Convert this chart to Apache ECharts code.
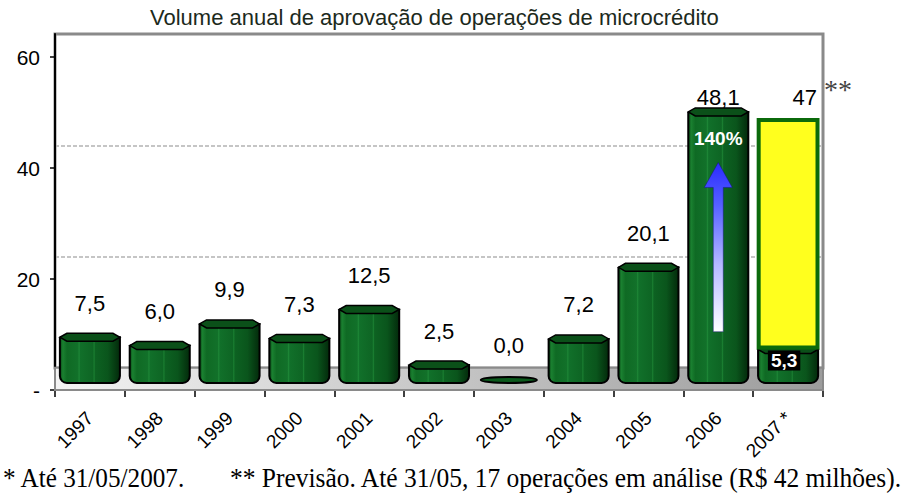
<!DOCTYPE html>
<html>
<head>
<meta charset="utf-8">
<script src="https://cdn.jsdelivr.net/npm/echarts@6/dist/echarts.min.js"></script>
<style>html,body{margin:0;padding:0;background:#fff;}#chart{width:913px;height:498px;}</style>
</head>
<body>
<div id="chart"></div>
<script>
// ---- data ----
const chartTitle = 'Volume anual de aprovação de operações de microcrédito';
const categories = ['1997', '1998', '1999', '2000', '2001', '2002', '2003', '2004', '2005', '2006', '2007 *'];
const approvedVolume = [7.5, 6.0, 9.9, 7.3, 12.5, 2.5, 0.0, 7.2, 20.1, 48.1, 5.3];
const forecastVolume = [null, null, null, null, null, null, null, null, null, null, 47];
const forecastMark = '**';
const growthArrowRange = [8.5, 39];   // arrow base and tip inside the 2006 bar
const growthArrowIndex = 9;
const growthText = '140%';
const yTicks = [0, 20, 40, 60];
const footnote1 = '* Até 31/05/2007.';
const footnote2 = '** Previsão. Até 31/05, 17 operações em análise (R$ 42 milhões).';

const SANS = "'Liberation Sans', Arial, sans-serif";
const SERIF = "'Liberation Serif', 'Times New Roman', serif";
const fmt = v => v.toFixed(1).replace('.', ',');
const LABEL_CEIL = 97;

const chart = echarts.init(document.getElementById('chart'), null, {renderer: 'svg'});

function bodyGradient() {
  return new echarts.graphic.LinearGradient(0, 0, 1, 0, [
    {offset: 0, color: '#0a4a17'},
    {offset: 0.05, color: '#1a8030'},
    {offset: 0.12, color: '#0f6a24'},
    {offset: 0.3, color: '#12712a'},
    {offset: 0.32, color: '#1d8636'},
    {offset: 0.34, color: '#11702a'},
    {offset: 0.55, color: '#0e6524'},
    {offset: 0.57, color: '#1a7e31'},
    {offset: 0.59, color: '#0d6222'},
    {offset: 0.8, color: '#0a551c'},
    {offset: 1, color: '#032a0b'}
  ]);
}

function renderCylinder(params, api) {
  const i = api.value(0), v = api.value(1);
  const top = api.coord([i, v]);
  const base = api.coord([i, 0]);
  const bw = api.size([1, 0])[0] * 0.86;
  const cx = top[0], x0 = cx - bw / 2, x1 = cx + bw / 2;
  const children = [];
  if (v <= 0) {
    children.push({type: 'ellipse', shape: {cx: cx, cy: base[1] + 1, rx: bw / 2 - 2, ry: 3},
      style: {fill: '#0b5a1c', stroke: '#000', lineWidth: 2}});
  } else {
    const t = top[1];
    children.push({type: 'rect', shape: {x: x0, y: t, width: bw, height: base[1] - t + 4, r: [0, 0, 7, 7]},
      style: {fill: bodyGradient(), stroke: '#000', lineWidth: 2}});
    children.push({type: 'polygon', shape: {points: [[x0, t], [x0 + 7, t - 4], [x1 - 7, t - 4], [x1, t], [x1 - 7, t + 4], [x0 + 7, t + 4]]},
      style: {fill: '#0b5019', stroke: '#000', lineWidth: 1.5}});
  }
  const topPx = v <= 0 ? base[1] - 3 : top[1] - 4;
  if (forecastVolume[i] == null) {
    children.push({type: 'text', style: {text: fmt(v), x: cx, y: Math.max(topPx - 30, LABEL_CEIL),
      align: 'center', verticalAlign: 'middle', fontSize: 22, fontFamily: SANS, fill: '#000'}});
  } else {
    children.push({type: 'text', style: {text: fmt(v), x: cx - 4, y: top[1] + 11,
      align: 'center', verticalAlign: 'middle', fontSize: 19, fontWeight: 'bold', fontFamily: SANS, fill: '#fff',
      backgroundColor: '#000', padding: [1, 3, 0, 3]}});
  }
  return {type: 'group', children: children};
}

function renderForecast(params, api) {
  const i = api.value(0), lo = api.value(1), hi = api.value(2);
  const a = api.coord([i, hi]);
  const b = api.coord([i, lo]);
  const bw = api.size([1, 0])[0] * 0.9;
  const cx = a[0];
  return {type: 'group', children: [
    {type: 'rect', shape: {x: cx - bw / 2 + 2, y: a[1] + 2, width: bw - 4, height: b[1] - a[1] - 4},
      style: {fill: '#ffff1e', stroke: '#0b6a0b', lineWidth: 4}},
    {type: 'text', style: {text: String(hi), x: cx + 29, y: Math.max(a[1] - 30, LABEL_CEIL), align: 'right', verticalAlign: 'middle',
      fontSize: 22, fontFamily: SANS, fill: '#000'}},
    {type: 'text', style: {text: forecastMark, x: cx + 36, y: Math.max(a[1] - 30, LABEL_CEIL) - 8, align: 'left', verticalAlign: 'middle',
      fontSize: 28, fontFamily: SERIF, fill: '#444'}}
  ]};
}

function renderArrow(params, api) {
  const i = api.value(0), from = api.value(1), to = api.value(2);
  const b = api.coord([i, from]);
  const t = api.coord([i, to]);
  const cx = t[0];
  const hb = t[1] + 25;
  const sw = 5, hw = 14;
  return {type: 'group', children: [
    {type: 'polygon', shape: {points: [[cx - sw, b[1]], [cx - sw, hb], [cx - hw, hb], [cx, t[1]], [cx + hw, hb], [cx + sw, hb], [cx + sw, b[1]]]},
      style: {fill: new echarts.graphic.LinearGradient(0, 0, 0, 1, [
        {offset: 0, color: '#2a2aff'}, {offset: 0.25, color: '#5560ff'}, {offset: 0.6, color: '#b4b9ff'}, {offset: 1, color: '#ffffff'}
      ]), stroke: 'rgba(20,20,120,0.6)', lineWidth: 0.8}},
    {type: 'text', style: {text: growthText, x: cx, y: t[1] - 24, align: 'center', verticalAlign: 'middle',
      fontSize: 19, fontWeight: 'bold', fontFamily: SANS, fill: '#fff'}}
  ]};
}

const forecastData = [];
forecastVolume.forEach((v, i) => { if (v != null) forecastData.push([i, approvedVolume[i], v]); });

const option = {
  animation: false,
  backgroundColor: '#fff',
  title: {text: chartTitle, left: 145, top: 1,
    textStyle: {fontSize: 22, fontWeight: 'normal', color: '#1c2a1c', fontFamily: SANS}},
  grid: [
    {left: 55, right: 90, top: 57, bottom: 108},
    {left: 55, right: 90, top: 34, bottom: 130, show: true, borderColor: '#8a8a8a', borderWidth: 3, backgroundColor: 'transparent'}
  ],
  xAxis: [
    {type: 'category', gridIndex: 0, data: categories, boundaryGap: true,
      axisLine: {lineStyle: {color: '#000', width: 2}},
      axisTick: {show: true, length: 7, alignWithLabel: false, lineStyle: {color: '#000', width: 1.5}},
      axisLabel: {rotate: 45, fontSize: 19, color: '#000', margin: 25, fontFamily: SANS, interval: 0}},
    {type: 'value', gridIndex: 1, min: 0, max: 1, show: false}
  ],
  yAxis: [
    {type: 'value', gridIndex: 0, min: yTicks[0], max: yTicks[yTicks.length - 1], interval: yTicks[1] - yTicks[0],
      axisLine: {show: true, lineStyle: {color: '#000', width: 2}},
      axisTick: {show: true, length: 5, lineStyle: {color: '#000', width: 1.5}},
      axisLabel: {formatter: v => v === 0 ? '-' : String(v), fontSize: 21, color: '#000', margin: 15, fontFamily: SANS},
      splitLine: {show: false}},
    {type: 'value', gridIndex: 0, min: -2, max: 58, show: false},
    {type: 'value', gridIndex: 1, min: yTicks[0], max: yTicks[yTicks.length - 1], interval: yTicks[1] - yTicks[0],
      axisLine: {show: true, lineStyle: {color: '#000', width: 2}},
      axisTick: {show: false}, axisLabel: {show: false},
      splitLine: {show: true, showMinLine: false, showMaxLine: false, lineStyle: {color: '#b3b3b3', type: [4, 2], width: 1.5}}}
  ],
  series: [
    {type: 'line', xAxisIndex: 0, yAxisIndex: 0, data: [], z: 1, silent: true,
      markArea: {silent: true, z: 1,
        itemStyle: {color: new echarts.graphic.LinearGradient(0, 0, 1, 0, [
          {offset: 0, color: '#f4f4f4'}, {offset: 0.4, color: '#cfcfcf'}, {offset: 1, color: '#9c9c9c'}]),
          borderColor: '#8a8a8a', borderWidth: 2},
        data: [[{yAxis: 0}, {yAxis: 4}]]}},
    {type: 'custom', name: 'Aprovado', xAxisIndex: 0, yAxisIndex: 1, z: 3,
      data: approvedVolume.map((v, i) => [i, v]), renderItem: renderCylinder},
    {type: 'custom', name: 'Previsão', xAxisIndex: 0, yAxisIndex: 1, z: 4,
      data: forecastData, renderItem: renderForecast},
    {type: 'custom', name: 'Crescimento', xAxisIndex: 0, yAxisIndex: 1, z: 5,
      data: [[growthArrowIndex, growthArrowRange[0], growthArrowRange[1]]], renderItem: renderArrow}
  ],
  graphic: [
    {type: 'text', left: 3, top: 464, scaleX: 0.9, style: {text: footnote1, fontSize: 28, fontFamily: SERIF, fill: '#000'}},
    {type: 'text', left: 230, top: 464, scaleX: 0.91, style: {text: footnote2, fontSize: 28, fontFamily: SERIF, fill: '#000'}}
  ]
};
chart.setOption(option);
</script>
</body>
</html>
